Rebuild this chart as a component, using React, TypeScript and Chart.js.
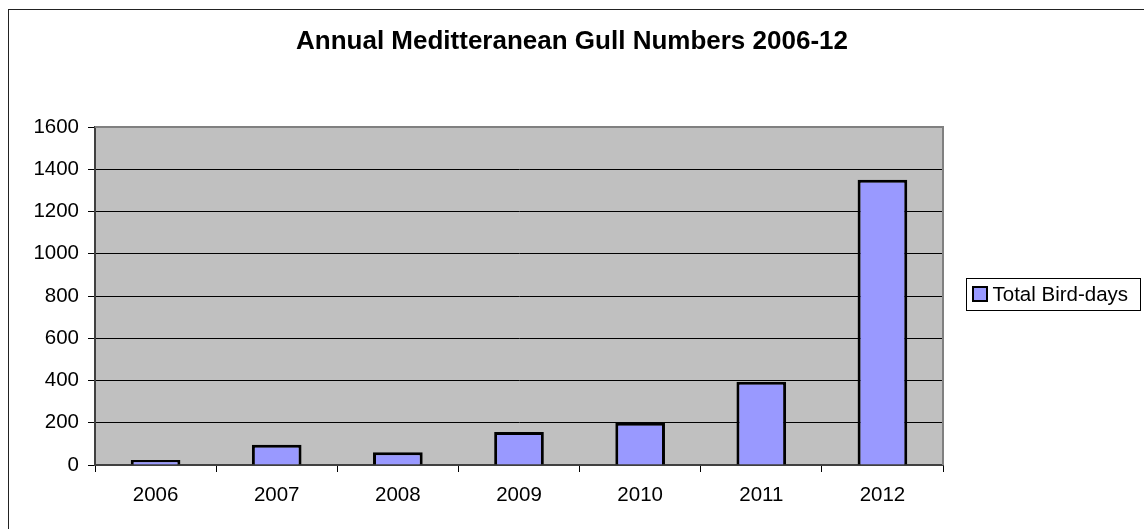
import React, { useEffect, useRef } from "react";
import { Chart, registerables } from "chart.js";

Chart.register(...registerables);

const years = ["2006", "2007", "2008", "2009", "2010", "2011", "2012"];
const birdDays = [24, 96, 60, 156, 200, 394, 1350];
const seriesLabel = "Total Bird-days";
const chartTitle = "Annual Meditteranean Gull Numbers 2006-12";
const yMin = 0;
const yMax = 1600;
const yStep = 200;

const FONT = '"Liberation Sans", Arial, Helvetica, sans-serif';
const BAR_FILL = "#9999FF";
const TEXT_SIZE = 20.5;

const decorPlugin = {
  id: "decor",
  beforeDraw(chart: any) {
    const { ctx, chartArea: ca } = chart;
    ctx.save();
    ctx.fillStyle = "#FFFFFF";
    ctx.fillRect(0, 0, chart.width, chart.height);
    // outer chart-area frame (cropped at right/bottom)
    ctx.strokeStyle = "#222222";
    ctx.lineWidth = 1;
    ctx.strokeRect(8.5, 9.5, chart.width + 50, chart.height + 50);
    // plot background
    ctx.fillStyle = "#C0C0C0";
    ctx.fillRect(ca.left, ca.top, ca.right - ca.left, ca.bottom - ca.top);
    ctx.restore();
  },
  beforeDatasetsDraw(chart: any) {
    const { ctx, chartArea: ca } = chart;
    ctx.save();
    ctx.strokeStyle = "#808080";
    ctx.lineWidth = 2;
    ctx.beginPath();
    ctx.moveTo(ca.left, ca.top);
    ctx.lineTo(ca.right, ca.top);
    ctx.lineTo(ca.right, ca.bottom);
    ctx.stroke();
    ctx.restore();
  },
  afterDraw(chart: any) {
    const { ctx, chartArea: ca } = chart;
    const ds = chart.data.datasets[0];
    ctx.save();
    ctx.font = TEXT_SIZE + "px " + FONT;
    const tw = ctx.measureText(ds.label).width;
    const boxH = 32;
    const left = Math.round(ca.right + 23) + 0.5;
    const top = Math.round((ca.top + ca.bottom) / 2 - boxH / 2) - 1.5;
    const w = Math.round(6 + 15 + 5 + tw + 12);
    ctx.fillStyle = "#FFFFFF";
    ctx.fillRect(left, top, w, boxH);
    ctx.strokeStyle = "#000000";
    ctx.lineWidth = 1;
    ctx.strokeRect(left, top, w, boxH);
    // swatch
    const sx = left + 6.5;
    const sy = top + 8.5;
    ctx.fillStyle = ds.backgroundColor;
    ctx.fillRect(sx, sy, 14, 14);
    ctx.lineWidth = 2;
    ctx.strokeStyle = "#000000";
    ctx.strokeRect(sx, sy, 14, 14);
    ctx.fillStyle = "#000000";
    ctx.textBaseline = "middle";
    ctx.textAlign = "left";
    ctx.fillText(ds.label, sx + 19.5, top + boxH / 2 + 1);
    ctx.restore();
  },
};

export default function App() {
  const ref = useRef<HTMLCanvasElement | null>(null);

  useEffect(() => {
    if (!ref.current) return;
    const chart = new Chart(ref.current, {
      type: "bar",
      data: {
        labels: years,
        datasets: [
          {
            label: seriesLabel,
            data: birdDays,
            backgroundColor: BAR_FILL,
            borderColor: "#000000",
            borderWidth: 3,
            borderSkipped: "bottom",
            barPercentage: 0.41,
            categoryPercentage: 1,
          },
        ],
      },
      options: {
        responsive: false,
        animation: false,
        layout: { padding: 0 },
        plugins: {
          legend: { display: false },
          tooltip: { enabled: false },
          title: {
            display: true,
            text: chartTitle,
            color: "#000000",
            font: { family: FONT, size: 26, weight: "bold", lineHeight: 1.2 },
            padding: { top: 26, bottom: 69.8 },
          },
        },
        scales: {
          x: {
            grid: {
              display: true,
              drawOnChartArea: false,
              drawTicks: true,
              tickLength: 7,
              tickColor: "#000000",
              tickWidth: 1,
              offset: true,
            },
            border: { display: true, color: "#404040", width: 2 },
            ticks: {
              color: "#000000",
              font: { family: FONT, size: TEXT_SIZE },
              padding: 11,
              maxRotation: 0,
            },
            afterFit(scale: any) {
              scale.height = 64;
            },
          },
          y: {
            min: yMin,
            max: yMax,
            grid: {
              color: (c: any) =>
                c.tick && (c.tick.value === yMax || c.tick.value === yMin)
                  ? "rgba(0,0,0,0)"
                  : "#000000",
              lineWidth: 1,
              drawTicks: true,
              tickLength: 7,
              tickColor: "#000000",
              tickWidth: 1,
            },
            border: { display: true, color: "#404040", width: 2 },
            ticks: {
              stepSize: yStep,
              color: "#000000",
              font: { family: FONT, size: TEXT_SIZE },
              padding: 9,
              callback: (v: any) => String(v),
            },
            afterFit(scale: any) {
              scale.width = 95;
            },
          },
          spacer: {
            type: "linear",
            position: "right",
            display: true,
            grid: { display: false, drawTicks: false },
            ticks: { display: false },
            border: { display: false },
            afterFit(scale: any) {
              scale.width = 201;
            },
          },
        },
      },
      plugins: [decorPlugin],
    } as any);
    return () => chart.destroy();
  }, []);

  return (
    <div style={{ position: "fixed", left: 0, top: 0, width: 1144, height: 529 }}>
      <canvas ref={ref} width={1144} height={529} style={{ display: "block" }} />
    </div>
  );
}
